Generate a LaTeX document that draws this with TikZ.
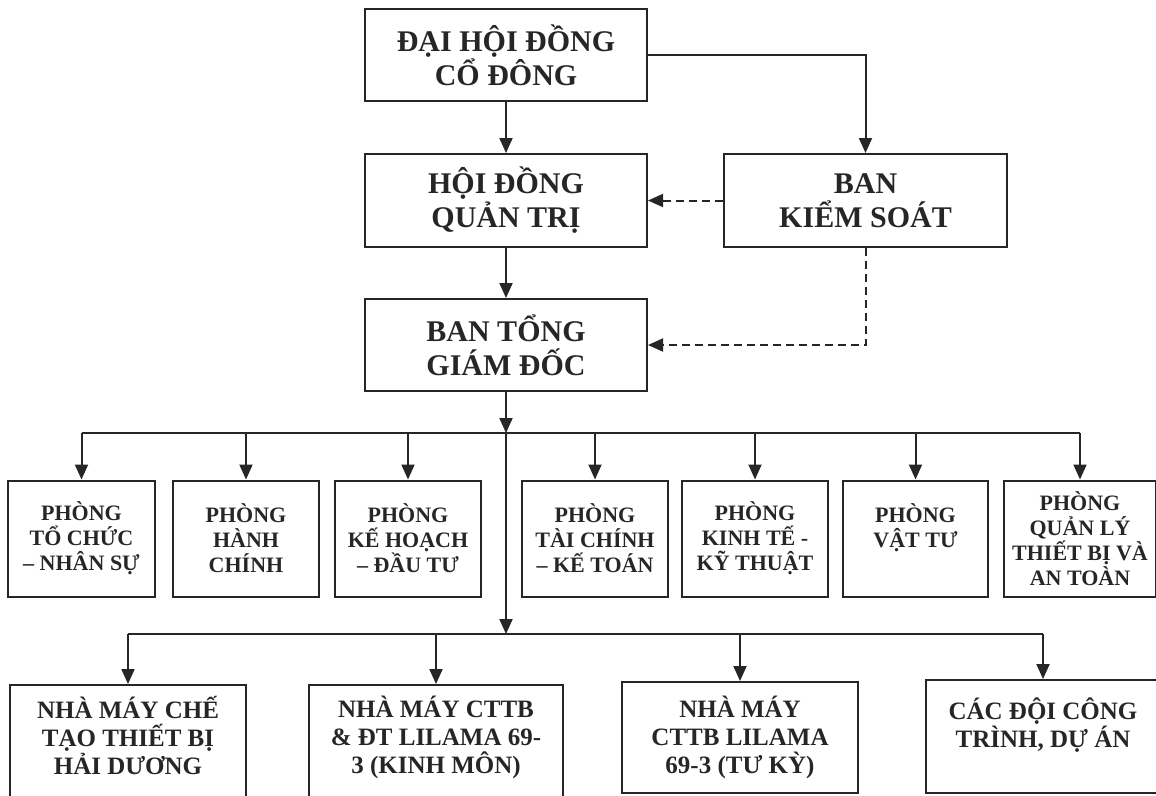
\documentclass[tikz,border=0pt]{standalone}
\usepackage{fontspec}
\setmainfont{Liberation Serif}
\usepackage{xcolor}
\usepackage{tikz}
\usetikzlibrary{arrows.meta,positioning,calc}
\definecolor{ink}{HTML}{262626}

\begin{document}
\begin{tikzpicture}[x=1pt,y=-1pt,
	box/.style={draw=ink,line width=2pt,text=ink,align=center,inner sep=0pt,font=\bfseries\fontsize{30}{34}\selectfont},
	dept/.style={box,minimum height=116pt,font=\bfseries\fontsize{22}{25}\selectfont},
	unit/.style={box,font=\bfseries\fontsize{25}{28}\selectfont},
	line/.style={draw=ink,line width=2pt},
	arr/.style={line,-{Triangle[width=13pt,length=15pt]}},
	ctrl/.style={arr,dash pattern=on 8pt off 5pt}]
	\useasboundingbox (0,0) rectangle (1156,795);
	\clip (0,0) rectangle (1156,795);
	\node[box,minimum width=282pt,minimum height=92pt] (dhdcd) at (506,55) {ĐẠI HỘI ĐỒNG\\CỔ ĐÔNG};
	\node[box,minimum width=282pt,minimum height=93pt] (hdqt) at (506,200.5) {HỘI ĐỒNG\\QUẢN TRỊ};
	\node[box,minimum width=283pt,minimum height=93pt] (bks) at (865.5,200.5) {BAN\\KIỂM SOÁT};
	\node[box,minimum width=282pt,minimum height=92pt] (btgd) at (506,345) {BAN TỔNG\\GIÁM ĐỐC};
	\coordinate (bar1) at (506,433);
	\coordinate (bar2) at (506,634);
	\node[dept,minimum width=147pt] (pb1) at (81.5,538.5) {PHÒNG\\TỔ CHỨC\\– NHÂN SỰ};
	\node[dept,minimum width=146pt] (pb2) at (246,538.5) {PHÒNG\\HÀNH\\CHÍNH};
	\node[dept,minimum width=146pt] (pb3) at (408,538.5) {PHÒNG\\KẾ HOẠCH\\– ĐẦU TƯ};
	\node[dept,minimum width=146pt] (pb4) at (595,538.5) {PHÒNG\\TÀI CHÍNH\\– KẾ TOÁN};
	\node[dept,minimum width=146pt] (pb5) at (755,538.5) {PHÒNG\\KINH TẾ -\\KỸ THUẬT};
	\node[dept,minimum width=145pt] (pb6) at (915.5,538.5) {PHÒNG\\VẬT TƯ\\\mbox{}};
	\node[dept,minimum width=152pt] (pb7) at (1080,538.5) {PHÒNG\\QUẢN LÝ\\THIẾT BỊ VÀ\\AN TOÀN};
	\node[unit,minimum width=236pt,minimum height=112pt,text depth=12pt] (nm1) at (128,741) {NHÀ MÁY CHẾ\\TẠO THIẾT BỊ\\HẢI DƯƠNG};
	\node[unit,minimum width=254pt,minimum height=112pt,text depth=12pt] (nm2) at (436,741) {NHÀ MÁY CTTB\\\& ĐT LILAMA 69-\\3 (KINH MÔN)};
	\node[unit,minimum width=236pt,minimum height=111pt] (nm3) at (740,737.5) {NHÀ MÁY\\CTTB LILAMA\\69-3 (TƯ KỲ)};
	\node[unit,minimum width=234pt,minimum height=113pt] (nm4) at (1043,736.5) {CÁC ĐỘI CÔNG\\TRÌNH, DỰ ÁN\\\mbox{}};
	\draw[arr] (dhdcd) -- (hdqt);
	\draw[arr] (hdqt) -- (btgd);
	\draw[arr] (dhdcd.east) -| (bks.north);
	\draw[ctrl] (bks.west) -- (hdqt.east);
	\draw[ctrl] (bks.south) |- (btgd.east);
	\draw[arr] (btgd) -- (bar1);
	\draw[line] (pb1 |- bar1) -- (pb7 |- bar1);
	\foreach \p in {pb1,pb2,pb3,pb4,pb5,pb6,pb7}
		\draw[arr] (\p |- bar1) -- (\p.north);
	\draw[arr] (bar1) -- (bar2);
	\draw[line] (nm1 |- bar2) -- (nm4 |- bar2);
	\foreach \n in {nm1,nm2,nm3,nm4}
		\draw[arr] (\n |- bar2) -- (\n.north);
\end{tikzpicture}
\end{document}
